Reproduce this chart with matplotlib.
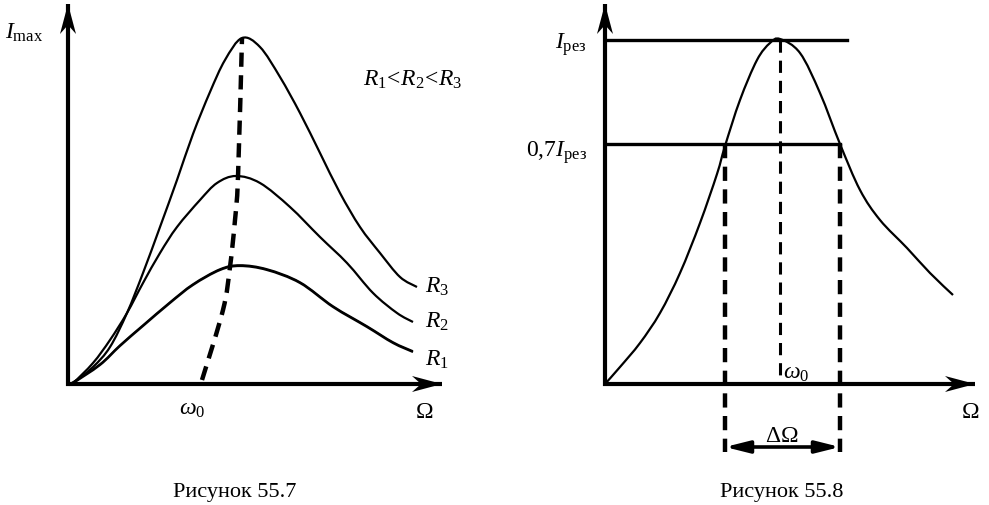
import matplotlib
matplotlib.use("Agg")
import matplotlib.pyplot as plt
from matplotlib.path import Path
from matplotlib.patches import PathPatch, Polygon

plt.rcParams['font.family'] = ['Liberation Serif', 'DejaVu Serif']
plt.rcParams['mathtext.fontset'] = 'custom'
plt.rcParams['mathtext.rm'] = 'Liberation Serif'
plt.rcParams['mathtext.it'] = 'Liberation Serif:italic'

# ---------- data: left figure (Ω, I) ----------
r3_w = [0, 5, 25, 42, 59, 75, 92, 109, 125, 142, 157, 174, 192, 212, 232, 252, 272, 292, 312, 332, 349]
r3_i = [0, 1, 17, 37, 71, 111, 157, 204, 250, 292, 324, 346, 337, 307, 271, 231, 191, 157, 131, 107, 97]
r2_w = [0, 5, 25, 42, 59, 75, 92, 109, 132, 149, 168, 192, 222, 252, 279, 305, 329, 345]
r2_i = [0, 1, 21, 44, 71, 101, 131, 157, 184, 201, 208, 201, 177, 147, 121, 91, 71, 62]
r1_w = [0, 5, 32, 52, 75, 102, 125, 152, 172, 199, 232, 265, 299, 325, 345]
r1_i = [0, 1, 19, 38, 58, 81, 99, 114, 118, 114, 101, 77, 57, 41, 32]
peak_w = [134, 155, 162, 167, 170, 174]
peak_i = [4, 74, 117, 164, 207, 346]

# ---------- data: right figure (Ω, I) ----------
res_w = [0, 15, 35, 55, 75, 95, 112, 120, 135, 152, 165, 175, 195, 215, 235, 255, 275, 302, 325, 348]
res_i = [0, 17, 41, 71, 111, 161, 210, 238, 284, 324, 341, 345, 331, 291, 240, 194, 164, 136, 111, 89]
i_res = 344
i_07 = 240
w_lo = 120
w_0 = 175
w_hi = 235

fig = plt.figure(figsize=(9.89, 5.05), dpi=100)

axL = fig.add_axes([0, 0, 0.5, 1])
axL.set_xlim(-68, 494.5 - 68)
axL.set_ylim(-121, 384)
axR = fig.add_axes([0.5, 0, 0.5, 1])
axR.set_xlim(-(605 - 494.5), 989 - 605)
axR.set_ylim(-121, 384)
for ax in (axL, axR):
    ax.axis('off')


def smooth(ax, xs, ys, **kw):
    """Draw a smooth (Catmull-Rom as Bezier) curve through the given points."""
    pts = list(zip(xs, ys))
    n = len(pts)
    verts = [pts[0]]
    codes = [Path.MOVETO]
    for k in range(n - 1):
        p0 = pts[k - 1] if k > 0 else pts[k]
        p1 = pts[k]
        p2 = pts[k + 1]
        p3 = pts[k + 2] if k + 2 < n else pts[k + 1]
        c1 = (p1[0] + (p2[0] - p0[0]) / 6, p1[1] + (p2[1] - p0[1]) / 6)
        c2 = (p2[0] - (p3[0] - p1[0]) / 6, p2[1] - (p3[1] - p1[1]) / 6)
        verts += [c1, c2, p2]
        codes += [Path.CURVE4] * 3
    ax.add_patch(PathPatch(Path(verts, codes), fill=False, capstyle='butt', **kw))


def axis_arrow(ax, x0, y0, x1, y1):
    ax.plot([x0, x1], [y0, y1], color='black', lw=3, solid_capstyle='butt')
    dx, dy = x1 - x0, y1 - y0
    L = (dx * dx + dy * dy) ** 0.5
    ux, uy = dx / L, dy / L
    px, py = -uy, ux
    hl, hw, notch = 30, 8, 21
    tip = (x1, y1)
    b1 = (x1 - ux * hl + px * hw, y1 - uy * hl + py * hw)
    nt = (x1 - ux * notch, y1 - uy * notch)
    b2 = (x1 - ux * hl - px * hw, y1 - uy * hl - py * hw)
    ax.add_patch(Polygon([tip, b1, nt, b2], closed=True, color='black', lw=0))


# ---- left figure ----
axis_arrow(axL, 0, -2, 0, 380)
axis_arrow(axL, -2, 0, 374, 0)
smooth(axL, r3_w, r3_i, color='black', lw=1.6)
smooth(axL, r2_w, r2_i, color='black', lw=1.6)
smooth(axL, r1_w, r1_i, color='black', lw=1.6)
smooth(axL, r1_w, [v + 1.0 for v in r1_i], color='black', lw=1.2)
smooth(axL, peak_w, peak_i, color='black', lw=3.2, linestyle=(0, (3.2, 1.9)))

fs = 17
axL.text(-63, 351, r'$I_{\rm max}$', fontsize=fs, va='center', ha='left')
axL.text(295, 304, r'$R_1\!<\!R_2\!<\!R_3$', fontsize=fs, va='center', ha='left')
axL.text(357, 97, r'$R_3$', fontsize=fs, va='center', ha='left')
axL.text(357, 62, r'$R_2$', fontsize=fs, va='center', ha='left')
axL.text(357, 24, r'$R_1$', fontsize=fs, va='center', ha='left')
axL.text(124, -26, r'$\omega_0$', fontsize=fs, va='center', ha='center')
axL.text(356, -28, r'$\Omega$', fontsize=fs, va='center', ha='center')
axL.text(167, -108, 'Рисунок 55.7', fontsize=16, va='center', ha='center')

# ---- right figure ----
axis_arrow(axR, 0, -2, 0, 380)
axis_arrow(axR, -2, 0, 370, 0)
smooth(axR, res_w, res_i, color='black', lw=1.6)
axR.plot([0, 242], [i_res, i_res], color='black', lw=2.4)
axR.plot([0, w_hi], [i_07, i_07], color='black', lw=2.4)
axR.plot([w_lo, w_lo], [i_07, -68], color='black', lw=3.2, dashes=(3.2, 1.9))
axR.plot([w_hi, w_hi], [i_07, -68], color='black', lw=3.2, dashes=(3.2, 1.9))
axR.plot([w_0, w_0], [i_res, 0], color='black', lw=2.2, dashes=(4, 2.6))
axR.annotate('', xy=(w_lo, -63), xytext=(w_hi, -63),
             arrowprops=dict(arrowstyle='<|-|>,head_length=1.2,head_width=0.3',
                             lw=2.6, color='black', shrinkA=0, shrinkB=0,
                             mutation_scale=12))
axR.text(-18, 339, r'$I_{\rm рез}$', fontsize=fs, va='center', ha='right')
axR.text(-18, 231, r'$0{,}7I_{\rm рез}$', fontsize=fs, va='center', ha='right')
axR.text(191, 10, r'$\omega_0$', fontsize=fs, va='center', ha='center')
axR.text(w_0 + 2, -52, r'$\Delta\Omega$', fontsize=fs, va='center', ha='center')
axR.text(365, -29, r'$\Omega$', fontsize=fs, va='center', ha='center')
axR.text(177, -108, 'Рисунок 55.8', fontsize=16, va='center', ha='center')

fig.savefig('out.png', dpi=100, facecolor='white')
